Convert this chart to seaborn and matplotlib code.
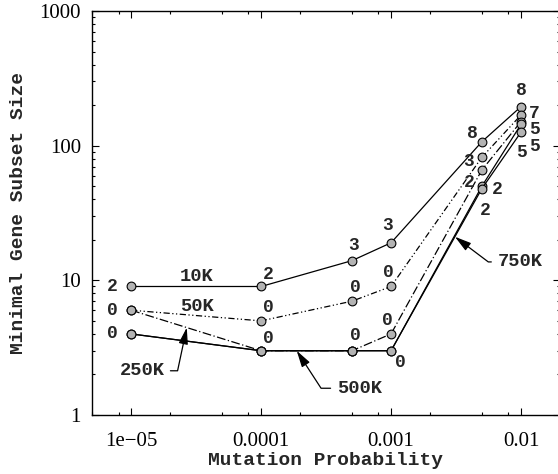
import numpy as np
import pandas as pd
import matplotlib
matplotlib.use("Agg")
import matplotlib.pyplot as plt
import matplotlib.ticker as mticker
import seaborn as sns

# mutation probabilities on the x axis
mutation_prob = [1e-5, 1e-4, 5e-4, 1e-3, 5e-3, 1e-2]

# minimal gene subset size for each population size
series_names = ["10K", "50K", "250K", "500K", "750K"]
size_10k = [9, 9, 14, 19, 107, 195]
size_50k = [6, 5, 7, 9, 82, 169]
size_250k = [6, 3, 3, 4, 66, 151]
size_500k = [4, 3, 3, 3, 50, 144]
size_750k = [4, 3, 3, 3, 48, 126]

# small numbers written next to each point
count_10k = [2, 2, 3, 3, 8, 8]
count_50k = [0, 0, 0, 0, 3, 7]
count_250k = [0, 0, 0, 0, 2, 5]
count_500k = [0, 0, 0, 0, 2, 5]
count_750k = [0, 0, 0, 0, 2, 5]

sizes = [size_10k, size_50k, size_250k, size_500k, size_750k]
counts = [count_10k, count_50k, count_250k, count_500k, count_750k]

# line styles per series
styles = ["-", (0, (5, 2, 1, 2, 1, 2)), (0, (7, 2, 1, 2)), "-", "-"]

# where each count label sits relative to its marker (pixels, y up)
label_offsets = [
    [(-19, 0), (7, 12), (2, 15), (-3, 17), (-10, 8), (0, 16)],
    [(-19, 0), (7, 13), (3, 14), (-3, 14), (-13, -4), (13, 1)],
    [(-19, 0), (7, 12), (3, 15), (-4, 13), (-13, -13), (13, -8)],
    [(-19, 0), (7, 12), (3, 15), (9, -12), (15, -3), (13, -22)],
    [(-19, 0), (7, 12), (3, 15), (9, -12), (3, -22), (0, -20)],
]

rows = []
for name, vals in zip(series_names, sizes):
    for x, v in zip(mutation_prob, vals):
        rows.append({"series": name, "prob": x, "size": v})
df = pd.DataFrame(rows)

sns.set_style("ticks")
plt.rcParams["font.family"] = ["Liberation Serif", "DejaVu Serif"]

fig = plt.figure(figsize=(5.58, 4.74), dpi=100)
ax = fig.add_axes([92 / 558, 59 / 474, 467.5 / 558, 404 / 474])

mono = {"family": "Liberation Mono", "weight": "bold"}

for name, ls in zip(series_names, styles):
    sub = df[df["series"] == name]
    sns.lineplot(data=sub, x="prob", y="size", ax=ax, color="black",
                 linestyle=ls, linewidth=0.9, marker="o", markersize=6.3,
                 markerfacecolor="#b3b3b3", markeredgecolor="black",
                 markeredgewidth=0.8, estimator=None, sort=False, legend=False)

# points shared by several series get their number only once
done = set()
for vals, cnts, offs in zip(sizes, counts, label_offsets):
    for x, v, c, off in zip(mutation_prob, vals, cnts, offs):
        if (x, v) in done:
            continue
        done.add((x, v))
        ax.annotate(str(c), (x, v), xytext=off, textcoords="offset pixels",
                    ha="center", va="center", fontsize=13, **mono)

ax.set_xscale("log")
ax.set_yscale("log")
ax.set_xlim(5.0e-6, 10 ** (-2 + 38.5 / 130))
ax.set_ylim(1, 1000)

# series names, some with arrows onto their lines
def on_line(vals, x):
    return 10 ** np.interp(np.log10(x), np.log10(mutation_prob), np.log10(vals))

ax.text(3.2e-5, 10.6, "10K", ha="center", va="center", fontsize=13.5, **mono)
ax.text(3.2e-5, 6.37, "50K", ha="center", va="center", fontsize=13.5, **mono)

arrow = dict(arrowstyle="-|>,head_length=1.0,head_width=0.28", color="black",
             lw=0.9, mutation_scale=10, shrinkA=2, shrinkB=0)
ax.annotate("250K", (2.68e-5, on_line(size_250k, 2.68e-5)), xytext=(1.21e-5, 2.13),
            ha="center", va="center", fontsize=13.5, **mono,
            arrowprops=dict(arrow, connectionstyle="angle,angleA=0,angleB=78,rad=0"))
ax.annotate("500K", (1.88e-4, on_line(size_500k, 1.88e-4)), xytext=(5.68e-4, 1.58),
            ha="center", va="center", fontsize=13.5, **mono,
            arrowprops=dict(arrow, connectionstyle="angle,angleA=0,angleB=123,rad=0"))
ax.annotate("750K", (3.1e-3, on_line(size_750k, 3.1e-3)), xytext=(9.8e-3, 13.7),
            ha="center", va="center", fontsize=13.5, **mono,
            arrowprops=dict(arrow, connectionstyle="angle,angleA=0,angleB=143,rad=0"))

ax.xaxis.set_major_locator(mticker.LogLocator(base=10, numticks=10))
ax.xaxis.set_minor_locator(mticker.LogLocator(base=10, subs=[2, 5, 8], numticks=10))
ax.xaxis.set_minor_formatter(mticker.NullFormatter())
ax.yaxis.set_minor_locator(mticker.LogLocator(base=10, subs=np.arange(2, 10), numticks=10))
ax.yaxis.set_minor_formatter(mticker.NullFormatter())
ax.xaxis.set_major_formatter(mticker.FuncFormatter(
    lambda v, p: {1e-5: "1e\u221205", 1e-4: "0.0001", 1e-3: "0.001", 1e-2: "0.01"}.get(round(v, 8), "")))
ax.yaxis.set_major_formatter(mticker.FuncFormatter(lambda v, p: "%g" % v))

ax.tick_params(which="both", direction="in", top=True, right=True, width=0.8,
               labelsize=15, colors="black")
ax.tick_params(which="major", length=5)
ax.tick_params(which="minor", length=2.5)
ax.tick_params(axis="x", pad=12)
ax.tick_params(axis="y", pad=8)
for s in ax.spines.values():
    s.set_linewidth(1.0)
    s.set_color("black")

ax.set_xlabel("Mutation Probability", fontsize=14, labelpad=1, **mono)
ax.set_ylabel("Minimal Gene Subset Size", fontsize=14, labelpad=9, **mono)

fig.savefig("out.png", dpi=100)
